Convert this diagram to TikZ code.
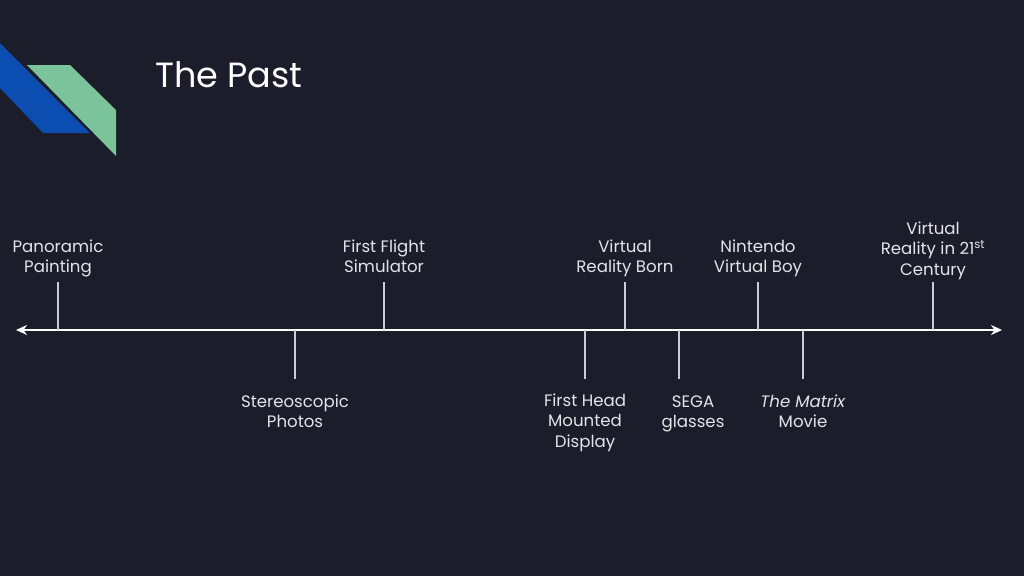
\documentclass[tikz,border=0pt]{standalone}
\usepackage{fontspec}
\setmainfont{Poppins}
\usetikzlibrary{arrows.meta}
\definecolor{bg}{HTML}{1B1E2A}
\definecolor{logoblue}{HTML}{0B4DB0}
\definecolor{logogreen}{HTML}{7BC39A}
\definecolor{txt}{HTML}{E4E4E8}
\definecolor{tick}{HTML}{C9CDD6}
\newcommand\lstrut{\rule{0pt}{17pt}}
\tikzset{
  lbl/.style={text=txt, align=center, anchor=north, font=\fontsize{16.6}{20.5}\selectfont, inner sep=0pt},
  tickline/.style={draw=tick, line width=1.8pt},
  axis/.style={draw=white, line width=2.8pt, {Stealth[length=11pt,width=10pt]}-{Stealth[length=11pt,width=10pt]}},
}
\begin{document}
\begin{tikzpicture}[x=1pt,y=-1pt]
\fill[bg] (0,0) rectangle (1024,576);
\useasboundingbox (0,0) rectangle (1024,576);
% logo
\fill[logoblue] (0,43) -- (90,133) -- (43,133) -- (0,88) -- cycle;
\fill[logogreen] (27,65) -- (70,65) -- (116,110) -- (116,156) -- cycle;
% title
\node[text=white, anchor=base west, font=\fontsize{35}{40}\selectfont, inner sep=0pt] (title) at (155,87) {The Past};
% axis
\coordinate (L) at (16,330);
\coordinate (R) at (1002,330);
\draw[axis] (L) -- (R);
% ticks above
\foreach \n/\x in {pa/58, ff/384, vr/625, nv/758, vt/933}{
  \coordinate (\n top) at (\x,282);
  \coordinate (\n bot) at (\x,330);
  \draw[tickline] (\n top) -- (\n bot);
}
% ticks below
\foreach \n/\x in {sp/295, fh/585, sg/679, tm/803}{
  \coordinate (\n top) at (\x,330);
  \coordinate (\n bot) at (\x,379);
  \draw[tickline] (\n top) -- (\n bot);
}
% labels above (first baseline 252)
\node[lbl] (lpa) at (58,235) {\lstrut Panoramic\\Painting};
\node[lbl] (lff) at (384,235) {\lstrut First Flight\\Simulator};
\node[lbl] (lvr) at (625,235) {\lstrut Virtual\\Reality Born};
\node[lbl] (lnv) at (758,235) {\lstrut Nintendo\\Virtual Boy};
\node[lbl] (lvt) at (933,217) {\lstrut Virtual\\Reality in 21\textsuperscript{st}\\Century};
% labels below (first baseline 407)
\node[lbl] (lsp) at (295,390) {\lstrut Stereoscopic\\Photos};
\node[lbl] (lfh) at (585,389) {\lstrut First Head\\Mounted\\Display};
\node[lbl] (lsg) at (693,390) {\lstrut SEGA\\glasses};
\node[lbl] (ltm) at (803,390) {\lstrut\textit{The Matrix}\\Movie};
\end{tikzpicture}
\end{document}
